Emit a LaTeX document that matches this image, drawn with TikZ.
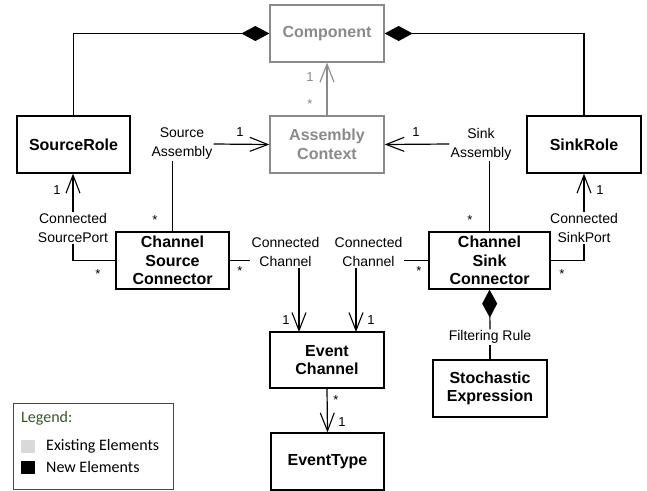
\documentclass[tikz,border=0pt]{standalone}
\usepackage{fontspec}
\setmainfont{Liberation Sans}
\newfontfamily\legfont{Carlito}
\usetikzlibrary{arrows.meta}
\definecolor{exgray}{HTML}{8A8A8A}
\definecolor{leggreen}{HTML}{385723}
\definecolor{legfill}{HTML}{D9D9D9}
\tikzset{
  cls/.style={draw=black, line width=1.3pt, minimum height=57pt, inner sep=1pt,
    align=center, font=\fontsize{16}{18.5}\selectfont\bfseries, text=black},
  existing/.style={cls, draw=exgray, text=exgray},
  lbl/.style={align=center, inner sep=1pt, font=\fontsize{14}{19}\selectfont},
  mult/.style={inner sep=0pt, font=\fontsize{13}{13}\selectfont},
  conn/.style={line width=1.2pt},
  nav/.style={conn, -{Straight Barb[length=18pt,width=14pt,line width=1.1pt]}},
  compo/.style={conn, -{Diamond[length=28pt,width=15pt]}},
}
\begin{document}
\begin{tikzpicture}[x=1pt,y=-1pt]
\useasboundingbox (0,0) rectangle (647,490);
% classes
\node[existing, minimum width=114pt] (comp) at (327,33.5) {Component};
\node[existing, minimum width=114pt] (ac) at (327,144.5) {Assembly\\Context};
\node[cls, minimum width=113pt] (srole) at (73.5,144.5) {SourceRole};
\node[cls, minimum width=114pt] (krole) at (584,144.5) {SinkRole};
\node[cls, minimum width=113pt] (csc) at (172.5,260.5) {Channel\\Source\\Connector};
\node[cls, minimum width=121pt] (csk) at (489.5,260.5) {Channel\\Sink\\Connector};
\node[cls, minimum width=114pt, minimum height=56pt] (ec) at (327,360) {Event\\Channel};
\node[cls, minimum width=114pt] (se) at (490,388.5) {Stochastic\\Expression};
\node[cls, minimum width=113pt] (et) at (327.5,461.5) {EventType};
% role labels
\node[lbl] (srcasm) at (182,144) {Source\\Assembly};
\node[lbl] (snkasm) at (481,144) {Sink\\Assembly};
\node[lbl] (csp) at (73,228) {Connected\\SourcePort};
\node[lbl] (cskp) at (584,228) {Connected\\SinkPort};
\node[lbl] (cc1) at (285.5,252) {Connected\\Channel};
\node[lbl] (cc2) at (368.5,252) {Connected\\Channel};
\node[lbl] (fr) at (490,337) {Filtering Rule};
\coordinate (ecin1) at (299,332);
\coordinate (ecin2) at (356,332);
% connectors
\draw[compo] (srole.north) |- (comp.west);
\draw[compo] (krole.north) |- (comp.east);
\draw[nav, draw=exgray] (ac.north) -- (comp.south);
\draw[nav] (srcasm.east) -- (ac.west);
\draw[nav] (snkasm.west) -- (ac.east);
\draw[conn] (csc.north) -- (csc.north |- srcasm.south);
\draw[conn] (csk.north) -- (csk.north |- snkasm.south);
\draw[conn] (csc.west) -| (csp.south);
\draw[nav] (csp.north) -- (csp.north |- srole.south);
\draw[conn] (csk.east) -| (cskp.south);
\draw[nav] (cskp.north) -- (cskp.north |- krole.south);
\draw[conn] (csc.east) -- (csc.east -| cc1.west);
\draw[nav] (ecin1 |- cc1.south) -- (ecin1);
\draw[conn] (csk.west) -- (csk.west -| cc2.east);
\draw[nav] (ecin2 |- cc2.south) -- (ecin2);
\draw[nav] (ec.south) -- (et.north);
\draw[compo] (fr.north) -- (csk.south);
\draw[conn] (fr.south) -- (se.north);
% multiplicities
\node[mult, text=exgray] (m1) at (310,77) {1};
\node[mult, text=exgray] (m2) at (310,104.5) {*};
\node[mult] (m3) at (240,132) {1};
\node[mult] (m4) at (416,132) {1};
\node[mult] (m5) at (155,220.5) {*};
\node[mult] (m6) at (470,220.5) {*};
\node[mult] (m7) at (57,190) {1};
\node[mult] (m8) at (600,190) {1};
\node[mult] (m9) at (98,274.5) {*};
\node[mult] (m10) at (240,271.5) {*};
\node[mult] (m11) at (419,271.5) {*};
\node[mult] (m12) at (562,274.5) {*};
\node[mult] (m13) at (286,320) {1};
\node[mult] (m14) at (371,320) {1};
\node[mult] (m15) at (336,400) {*};
\node[mult] (m16) at (342,422) {1};
% legend
\draw[leggreen, line width=1pt] (13,403) rectangle (173,489);
\node[anchor=west, inner sep=0pt, text=leggreen, font=\legfont\fontsize{16}{16}\selectfont] (legt) at (21,418) {Legend:};
\fill[legfill] (21,440) rectangle (35,453);
\node[anchor=west, inner sep=0pt, font=\legfont\fontsize{16}{16}\selectfont] (lege) at (46,446) {Existing Elements};
\fill[black] (21,461) rectangle (35,474);
\node[anchor=west, inner sep=0pt, font=\legfont\fontsize{16}{16}\selectfont] (legn) at (46,467) {New Elements};
\end{tikzpicture}
\end{document}
